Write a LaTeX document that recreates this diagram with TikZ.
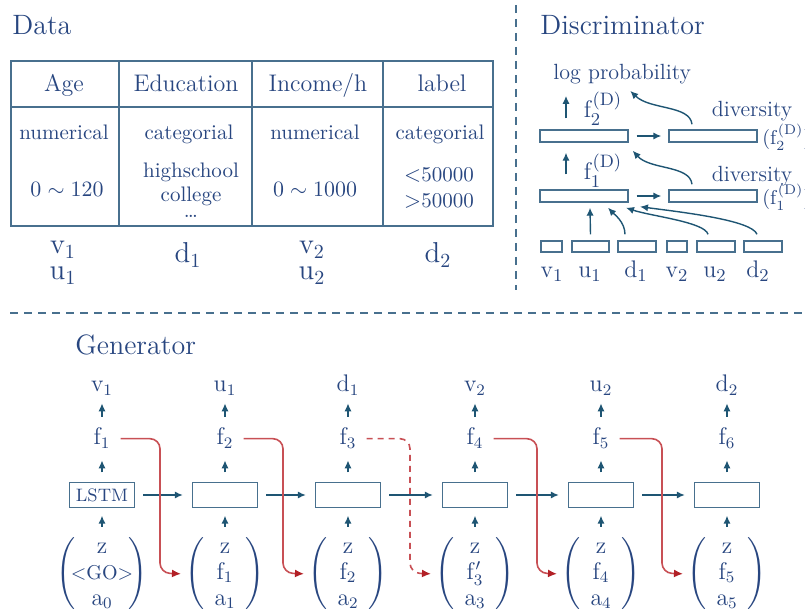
\documentclass[tikz,border=0pt]{standalone}
\usepackage{amsmath}
\usepackage{tikz}
\usetikzlibrary{arrows.meta,calc}
\definecolor{txtc}{RGB}{40,70,128}
\definecolor{boxc}{RGB}{72,112,142}
\definecolor{arrc}{RGB}{30,85,115}
\definecolor{redc}{RGB}{200,80,85}
\definecolor{redtip}{RGB}{178,32,38}
\newcommand{\gvec}[3]{{\renewcommand{\arraystretch}{0.93}$\left(\begin{array}{c}#1\\ #2\\ #3\end{array}\right)$}}

\begin{document}
\begin{tikzpicture}[x=0.5pt,y=-0.5pt,
    every node/.style={text=txtc},
    bnode/.style={anchor=base,inner sep=0pt},
    ttl/.style={anchor=base west,inner sep=0pt,font=\fontsize{14}{17}\selectfont},
    hcell/.style={bnode,font=\large},
    bcell/.style={bnode,font=\fontsize{10.5}{12.6}\selectfont},
    tlab/.style={bnode,font=\fontsize{14}{17}\selectfont},
    dlab/.style={bnode,font=\fontsize{13}{15}\selectfont},
    dtxt/.style={bnode,font=\fontsize{11}{13}\selectfont},
    glab/.style={anchor=base,inner sep=1pt,text height=8.5pt,text depth=2.2pt,font=\large},
    dbox/.style={draw=boxc,line width=0.7pt,inner sep=0pt,minimum height=6pt},
    gbox/.style={draw=boxc,line width=0.7pt,inner sep=0pt,minimum width=32.5pt,minimum height=12.5pt},
    gmat/.style={inner sep=0pt,font=\large},
    uparr/.style={draw=arrc,line width=0.7pt,-{Latex[length=4pt,width=3.6pt]}},
    fback/.style={draw=redc,line width=0.8pt,rounded corners=5pt,shorten >=2pt,-{Latex[length=4.5pt,width=4pt,color=redtip]}},
    sepline/.style={draw=boxc,line width=0.6pt,dash pattern=on 4pt off 3pt}]
  \useasboundingbox (0,0) rectangle (805,609);

  % separators
  \draw[sepline] (516,5) -- (516,290);
  \draw[sepline] (10,313) -- (805,313);

  % data table
  \node[ttl] (tdata) at (12,35) {Data};
  \draw[draw=boxc,line width=1pt] (11,61) rectangle (493,226);
  \draw[draw=boxc,line width=1pt] (11,107) -- (493,107);
  \draw[draw=boxc,line width=0.6pt] (119,61) -- (119,226) (252,61) -- (252,226) (383,61) -- (383,226);
  \node[hcell] (hage) at (64,92) {Age};
  \node[hcell] (hedu) at (186,92) {Education};
  \node[hcell] (hinc) at (318,92) {Income/h};
  \node[hcell] (hlab) at (442,92) {label};
  \node[bcell] (kage) at (64,140) {numerical};
  \node[bcell] (kedu) at (189,140) {categorial};
  \node[bcell] (kinc) at (315,140) {numerical};
  \node[bcell] (klab) at (440,140) {categorial};
  \node[bcell] (rage) at (67,197) {$0\sim120$};
  \node[bcell] (redua) at (191,178) {highschool};
  \node[bcell] (redub) at (191,202) {college};
  \node[bcell] (reduc) at (191,218) {\dots};
  \node[bcell] (rinc) at (315,197) {$0\sim1000$};
  \node[bcell] (rlaba) at (439,182) {$<$50000};
  \node[bcell] (rlabb) at (439,208) {$>$50000};
  \node[tlab] (tv1) at (63,254) {$\mathrm{v}_1$};
  \node[tlab] (tu1) at (63,280) {$\mathrm{u}_1$};
  \node[tlab] (td1) at (188,263) {$\mathrm{d}_1$};
  \node[tlab] (tv2) at (312,254) {$\mathrm{v}_2$};
  \node[tlab] (tu2) at (312,280) {$\mathrm{u}_2$};
  \node[tlab] (td2) at (438,263) {$\mathrm{d}_2$};

  % discriminator
  \node[ttl] (tdis) at (540,35) {Discriminator};
  \node[dtxt,anchor=base west] (lp) at (553,80) {log probability};
  \node[dbox,minimum width=44pt] (dl2) at (584,136) {};
  \node[dbox,minimum width=44pt] (dr2) at (713,136) {};
  \node[dbox,minimum width=44pt] (dl1) at (584,196) {};
  \node[dbox,minimum width=44pt] (dr1) at (713,196) {};
  \node[dlab] (fd2) at (603,118) {$\mathrm{f}_2^{(\mathrm{D})}$};
  \node[dlab] (fd1) at (603,180) {$\mathrm{f}_1^{(\mathrm{D})}$};
  \node[dtxt] (div2) at (752,117) {diversity};
  \node[dtxt] (div1) at (752,182) {diversity};
  \node[bnode,font=\fontsize{10}{12}\selectfont,anchor=base west] (dvf2) at (762,145) {$(\mathrm{f}_2^{(\mathrm{D})})$};
  \node[bnode,font=\fontsize{10}{12}\selectfont,anchor=base west] (dvf1) at (762,205) {$(\mathrm{f}_1^{(\mathrm{D})})$};
  \node[dbox,minimum height=5.5pt,minimum width=10.5pt] (bv1) at (551.5,246.5) {};
  \node[dbox,minimum height=5.5pt,minimum width=18.5pt] (bu1) at (590.5,246.5) {};
  \node[dbox,minimum height=5.5pt,minimum width=19pt] (bd1) at (637,246.5) {};
  \node[dbox,minimum height=5.5pt,minimum width=10pt] (bv2) at (677,246.5) {};
  \node[dbox,minimum height=5.5pt,minimum width=19pt] (bu2) at (716,246.5) {};
  \node[dbox,minimum height=5.5pt,minimum width=19pt] (bd2) at (763,246.5) {};
  \node[dlab] (lv1) at (552,278) {$\mathrm{v}_1$};
  \node[dlab] (lu1) at (590,278) {$\mathrm{u}_1$};
  \node[dlab] (ld1) at (636,278) {$\mathrm{d}_1$};
  \node[dlab] (lv2) at (677,278) {$\mathrm{v}_2$};
  \node[dlab] (lu2) at (715,278) {$\mathrm{u}_2$};
  \node[dlab] (ld2) at (758,278) {$\mathrm{d}_2$};

  \draw[uparr,shorten <=5.5pt,shorten >=5.5pt] ([xshift=-9pt]dl2.north) -- ([xshift=-9pt]dl2.north |- lp.south);
  \draw[uparr,shorten <=7.5pt,shorten >=5pt] ([xshift=-9pt]dl1.north) -- ([xshift=-9pt]dl2.south);
  \draw[uparr,shorten <=4pt,shorten >=3.5pt] (dl2) -- (dr2);
  \draw[uparr,shorten <=4pt,shorten >=3.5pt] (dl1) -- (dr1);
  \draw[uparr] ([xshift=-10.5pt,yshift=2.5pt]dr2.north) .. controls (690,105) and (650,110) .. ([xshift=4pt,yshift=-3pt]lp.south);
  \draw[uparr] ([xshift=-10.5pt,yshift=2.5pt]dr1.north) .. controls (690,165) and (650,170) .. ([xshift=2pt,yshift=-4pt]dl2.south east);
  \draw[uparr] ([yshift=3pt]bu1.north) -- ([xshift=3pt,yshift=-2.5pt]dl1.south);
  \draw[uparr] ([xshift=-6pt,yshift=3pt]bd1.north) .. controls (625,222) and (614,214) .. ([xshift=12pt,yshift=-2.5pt]dl1.south);
  \draw[uparr] ([xshift=-4pt,yshift=3pt]bu2.north) .. controls (705,222) and (650,216) .. ([xshift=21pt,yshift=-2.5pt]dl1.south);
  \draw[uparr] ([xshift=-3pt,yshift=3pt]bd2.north) .. controls (752,220) and (680,212) .. ([xshift=28pt,yshift=-2pt]dl1.south);

  % generator
  \node[ttl] (tgen) at (75,355) {Generator};
  \node[glab] (gv1) at (102,392) {$\mathrm{v}_1$};
  \node[glab] (gu1) at (225,392) {$\mathrm{u}_1$};
  \node[glab] (gd1) at (348,392) {$\mathrm{d}_1$};
  \node[glab] (gv2) at (475,392) {$\mathrm{v}_2$};
  \node[glab] (gu2) at (601,392) {$\mathrm{u}_2$};
  \node[glab] (gd2) at (727,392) {$\mathrm{d}_2$};
  \node[glab] (gf1) at (102,445) {$\mathrm{f}_1$};
  \node[glab] (gf2) at (225,445) {$\mathrm{f}_2$};
  \node[glab] (gf3) at (348,445) {$\mathrm{f}_3$};
  \node[glab] (gf4) at (475,445) {$\mathrm{f}_4$};
  \node[glab] (gf5) at (601,445) {$\mathrm{f}_5$};
  \node[glab] (gf6) at (727,445) {$\mathrm{f}_6$};
  \node[gbox,font=\small] (g1) at (102,495) {LSTM};
  \node[gbox] (g2) at (225,495) {};
  \node[gbox] (g3) at (348,495) {};
  \node[gbox] (g4) at (475,495) {};
  \node[gbox] (g5) at (601,495) {};
  \node[gbox] (g6) at (727,495) {};
  \node[gmat] (gm1) at (102,574) {\setlength{\arraycolsep}{-2.5pt}\gvec{\mathrm{z}}{\text{\normalsize$<$GO$>$}}{\mathrm{a}_0}};
  \node[gmat] (gm2) at (225,574) {\gvec{\mathrm{z}}{\mathrm{f}_1}{\mathrm{a}_1}};
  \node[gmat] (gm3) at (348,574) {\gvec{\mathrm{z}}{\mathrm{f}_2}{\mathrm{a}_2}};
  \node[gmat] (gm4) at (475,574) {\gvec{\mathrm{z}}{\mathrm{f}'_3}{\mathrm{a}_3}};
  \node[gmat] (gm5) at (601,574) {\gvec{\mathrm{z}}{\mathrm{f}_4}{\mathrm{a}_4}};
  \node[gmat] (gm6) at (727,574) {\gvec{\mathrm{z}}{\mathrm{f}_5}{\mathrm{a}_5}};

  \draw[uparr,shorten <=4.5pt,shorten >=2.3pt] (gf1) -- (gv1);
  \draw[uparr,shorten <=4.5pt,shorten >=2.3pt] (gf2) -- (gu1);
  \draw[uparr,shorten <=4.5pt,shorten >=2.3pt] (gf3) -- (gd1);
  \draw[uparr,shorten <=4.5pt,shorten >=2.3pt] (gf4) -- (gv2);
  \draw[uparr,shorten <=4.5pt,shorten >=2.3pt] (gf5) -- (gu2);
  \draw[uparr,shorten <=4.5pt,shorten >=2.3pt] (gf6) -- (gd2);
  \draw[uparr,shorten <=4.75pt,shorten >=4.3pt] (g1) -- (gf1);
  \draw[uparr,shorten <=4.75pt,shorten >=4.3pt] (g2) -- (gf2);
  \draw[uparr,shorten <=4.75pt,shorten >=4.3pt] (g3) -- (gf3);
  \draw[uparr,shorten <=4.75pt,shorten >=4.3pt] (g4) -- (gf4);
  \draw[uparr,shorten <=4.75pt,shorten >=4.3pt] (g5) -- (gf5);
  \draw[uparr,shorten <=4.75pt,shorten >=4.3pt] (g6) -- (gf6);
  \draw[uparr,shorten <=4pt,shorten >=3.75pt] (gm1) -- (g1);
  \draw[uparr,shorten <=4pt,shorten >=3.75pt] (gm2) -- (g2);
  \draw[uparr,shorten <=4pt,shorten >=3.75pt] (gm3) -- (g3);
  \draw[uparr,shorten <=4pt,shorten >=3.75pt] (gm4) -- (g4);
  \draw[uparr,shorten <=4pt,shorten >=3.75pt] (gm5) -- (g5);
  \draw[uparr,shorten <=4pt,shorten >=3.75pt] (gm6) -- (g6);
  \draw[uparr,shorten <=4pt,shorten >=4.5pt] (g1) -- (g2);
  \draw[uparr,shorten <=4pt,shorten >=4.5pt] (g2) -- (g3);
  \draw[uparr,shorten <=4pt,shorten >=4.5pt] (g3) -- (g4);
  \draw[uparr,shorten <=4pt,shorten >=4.5pt] (g4) -- (g5);
  \draw[uparr,shorten <=4pt,shorten >=4.5pt] (g5) -- (g6);

  % feedback of f_i
  \coordinate (r1) at (160,573);
  \coordinate (r2) at (283,573);
  \coordinate (r3) at (410,573);
  \coordinate (r4) at (537,573);
  \coordinate (r5) at (662,573);
  \draw[fback] ([xshift=4pt]gf1.east) -| (r1) -- (gm2.west);
  \draw[fback] ([xshift=4pt]gf2.east) -| (r2) -- (gm3.west);
  \draw[fback,dash pattern=on 3pt off 2.5pt] ([xshift=4pt]gf3.east) -| (r3) -- (gm4.west);
  \draw[fback] ([xshift=4pt]gf4.east) -| (r4) -- (gm5.west);
  \draw[fback] ([xshift=4pt]gf5.east) -| (r5) -- (gm6.west);
\end{tikzpicture}
\end{document}
